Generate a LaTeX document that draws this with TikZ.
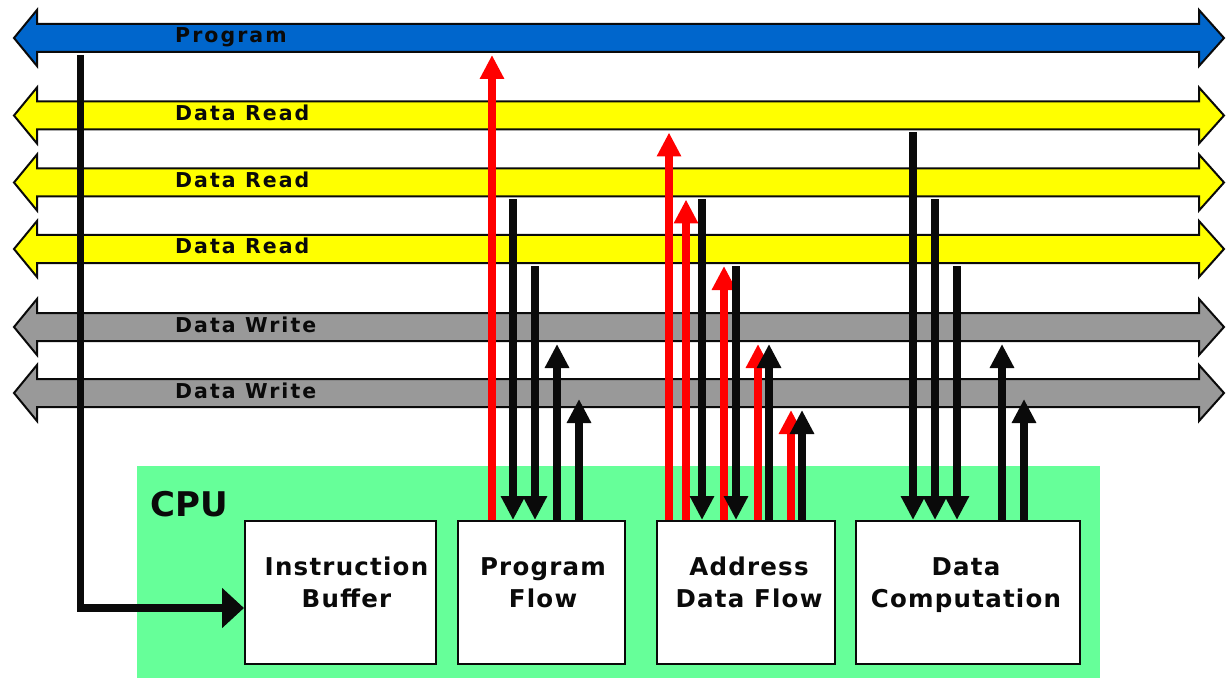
\documentclass[tikz,border=0pt]{standalone}
\usepackage{fontspec}
\setmainfont{DejaVu Sans}
\newfontfamily\busfont{DejaVu Sans}[LetterSpace=10]
\newfontfamily\unitfont{DejaVu Sans}[LetterSpace=5]
\usetikzlibrary{arrows.meta,calc}

\definecolor{progblue}{RGB}{0,102,204}
\definecolor{readyellow}{RGB}{255,255,0}
\definecolor{writegray}{RGB}{153,153,153}
\definecolor{cpugreen}{RGB}{102,255,153}
\definecolor{ink}{RGB}{10,10,10}
\definecolor{flowred}{RGB}{255,0,0}

\tikzset{
  shaft/.style={draw=none, inner sep=0pt, outer xsep=0pt, outer ysep=3pt,
    minimum width=1162pt, minimum height=28pt},
  busline/.style={draw=ink, line width=2pt, line join=miter},
  buslabel/.style={anchor=base west, inner sep=0pt, text=ink,
    font=\busfont\bfseries\fontsize{20.5}{24}\selectfont},
  unitbox/.style={draw=ink, fill=white, line width=2pt, inner sep=0pt,
    minimum height=143pt},
  unitlabel/.style={align=center, inner sep=0pt, text=ink,
    font=\unitfont\bfseries\fontsize{24.5}{32}\selectfont},
  flowup/.style={draw=flowred, line width=7.5pt,
    -{Triangle[width=23pt,length=24pt]}},
  dataarrow/.style={draw=ink, line width=7.5pt,
    -{Triangle[width=23pt,length=24pt]}},
}

% one double-headed bus: name, centre line, fill colour, label
\newcommand\busarrow[4]{%
  \node[shaft] (#1) at (618,#2) {};
  \draw[busline, fill=#3] (14,#2) -- (37,{#2-28}) -- (37,{#2-14})
    -- (1199,{#2-14}) -- (1199,{#2-28}) -- (1224,#2) -- (1199,{#2+28})
    -- (1199,{#2+14}) -- (37,{#2+14}) -- (37,{#2+28}) -- cycle;
  \node[buslabel] (#1-l) at (175,{#2+5}) {#4};
}

\begin{document}
\begin{tikzpicture}[x=1pt, y=-1pt]
\useasboundingbox (0,0) rectangle (1226,679);
\fill[white] (0,0) rectangle (1226,679);

% buses
\busarrow{prog}{38}{progblue}{Program}
\busarrow{dr1}{115.5}{readyellow}{Data Read}
\busarrow{dr2}{182.5}{readyellow}{Data Read}
\busarrow{dr3}{249}{readyellow}{Data Read}
\busarrow{dw1}{327}{writegray}{Data Write}
\busarrow{dw2}{393}{writegray}{Data Write}
\coordinate (dw2-mid) at ([yshift=-6pt]dw2.center);

% CPU area
\node[fill=cpugreen, draw=none, inner sep=0pt, minimum width=963pt,
  minimum height=212pt] (cpu) at (618.5,572) {};
\node[anchor=base west, inner sep=0pt, text=ink,
  font=\bfseries\fontsize{34}{38}\selectfont] (cpu-l) at (150,516) {CPU};

% functional units
\node[unitbox, minimum width=191pt] (ib) at (340.5,592.5) {};
\node[unitbox, minimum width=167pt] (pf) at (541.5,592.5) {};
\node[unitbox, minimum width=178pt] (adf) at (746,592.5) {};
\node[unitbox, minimum width=224pt] (dc) at (968,592.5) {};

\node[unitlabel] (ib-l) at ([xshift=6pt,yshift=10pt]ib.center) {Instruction\\Buffer};
\node[unitlabel] (pf-l) at ([xshift=1.5pt,yshift=10pt]pf.center) {Program\\Flow};
\node[unitlabel] (adf-l) at ([xshift=3pt,yshift=10pt]adf.center) {Address\\Data Flow};
\node[unitlabel] (dc-l) at ([xshift=-2pt,yshift=7pt]dc.center) {Data\\Computation};

% instruction fetch
\coordinate (ib-in) at ([yshift=-15.5pt]ib.west);
\draw[dataarrow, line join=miter, -{Triangle[width=39pt,length=22pt]}]
  (80.5,0 |- prog.south) |- (ib-in);

% program flow unit
\draw[flowup] (492,0 |- pf.north) -- (492,0 |- prog.south);
\draw[dataarrow] (513,0 |- dr2.south) -- (513,0 |- pf.north);
\draw[dataarrow] (535,0 |- dr3.south) -- (535,0 |- pf.north);
\draw[dataarrow] (557,0 |- pf.north) -- (557,0 |- dw1.south);
\draw[dataarrow] (579,0 |- pf.north) -- (579,0 |- dw2-mid);

% address data flow unit
\draw[flowup] (669,0 |- adf.north) -- (669,0 |- dr1.south);
\draw[flowup] (686,0 |- adf.north) -- (686,0 |- dr2.south);
\draw[dataarrow] (702,0 |- dr2.south) -- (702,0 |- adf.north);
\draw[flowup] (724,0 |- adf.north) -- (724,0 |- dr3.south);
\draw[dataarrow] (736,0 |- dr3.south) -- (736,0 |- adf.north);
\draw[flowup] (758,0 |- adf.north) -- (758,0 |- dw1.south);
\draw[dataarrow] (769,0 |- adf.north) -- (769,0 |- dw1.south);
\draw[flowup] (791,0 |- adf.north) -- (791,0 |- dw2.south);
\draw[dataarrow] (802,0 |- adf.north) -- (802,0 |- dw2.south);

% data computation unit
\draw[dataarrow] (913,0 |- dr1.south) -- (913,0 |- dc.north);
\draw[dataarrow] (935,0 |- dr2.south) -- (935,0 |- dc.north);
\draw[dataarrow] (957,0 |- dr3.south) -- (957,0 |- dc.north);
\draw[dataarrow] (1002,0 |- dc.north) -- (1002,0 |- dw1.south);
\draw[dataarrow] (1024,0 |- dc.north) -- (1024,0 |- dw2-mid);
\end{tikzpicture}
\end{document}
